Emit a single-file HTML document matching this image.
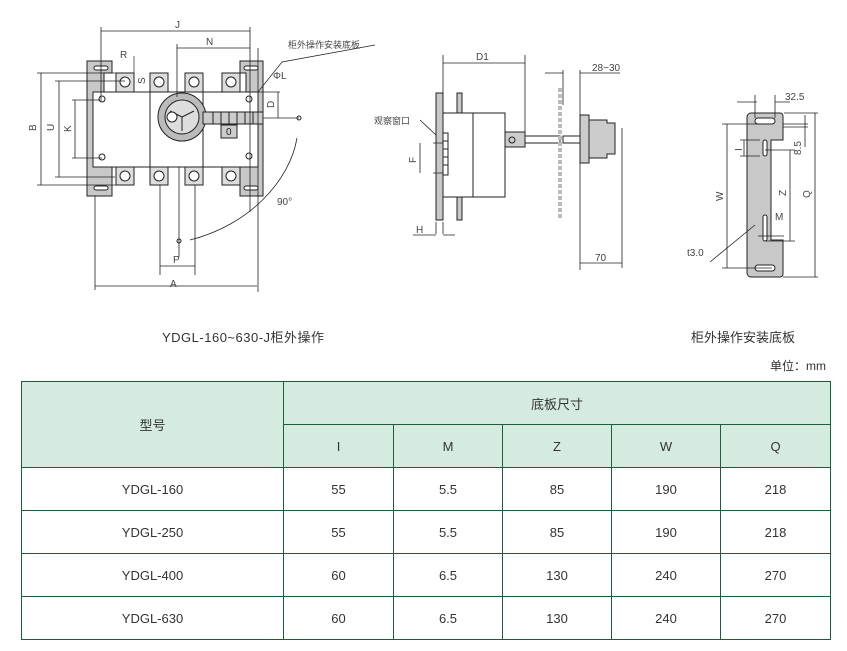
<!DOCTYPE html>
<html><head><meta charset="utf-8"><style>
body{margin:0;width:847px;height:651px;background:#fff;overflow:hidden;position:relative;font-family:"Liberation Sans","Noto Sans CJK SC",sans-serif;color:#333}
svg{position:absolute;left:0;top:0}
.cap{position:absolute;font-size:13px;color:#333}
table{position:absolute;left:21px;top:381px;border-collapse:collapse;font-size:13px;color:#333}
td{border:1px solid #1f5c3c;text-align:center;padding:0;height:42px}
.h{background:#d6ebe0}
</style></head><body>
<svg width="847" height="330" viewBox="0 0 847 330" font-family="Liberation Sans, Noto Sans CJK SC, sans-serif" font-size="10" fill="none" stroke="#222" stroke-width="1">
<!-- front view -->
<path d="M87 61h25v12h-8v94h8v29h-25z" fill="#c8c8c8"/>
<path d="M240 61h23v135h-23v-29h6v-94h-6z" fill="#c8c8c8"/>
<rect x="93" y="92" width="165" height="75" fill="#fff"/>
<rect x="150" y="92" width="53" height="75" fill="#fff"/>
<g fill="#ddd">
<rect x="116" y="73" width="18" height="19"/><rect x="150" y="73" width="18" height="19"/><rect x="185" y="73" width="18" height="19"/><rect x="222" y="73" width="18" height="19"/>
<rect x="116" y="167" width="18" height="18"/><rect x="150" y="167" width="18" height="18"/><rect x="185" y="167" width="18" height="18"/><rect x="222" y="167" width="18" height="18"/>
</g>
<g fill="#fff"><circle cx="125" cy="82" r="5"/><circle cx="159" cy="82" r="5"/><circle cx="194" cy="82" r="5"/><circle cx="231" cy="82" r="5"/>
<circle cx="125" cy="176" r="5"/><circle cx="159" cy="176" r="5"/><circle cx="194" cy="176" r="5"/><circle cx="231" cy="176" r="5"/></g>
<rect x="94" y="66" width="14" height="4" rx="2" fill="#fff"/><rect x="94" y="186" width="14" height="4" rx="2" fill="#fff"/>
<rect x="244" y="66" width="14" height="4" rx="2" fill="#fff"/><rect x="244" y="186" width="14" height="4" rx="2" fill="#fff"/>
<circle cx="182" cy="117" r="24" fill="#bbb"/><circle cx="182" cy="117" r="17" fill="#ddd"/>
<path d="M182 117l-12 -6M182 117l12 -6M182 117v14"/><circle cx="172" cy="117" r="5" fill="#fff"/>
<rect x="203" y="112" width="60" height="12" fill="#ccc"/>
<path d="M213 112v12M221 112v12M229 112v12M237 112v12M245 112v12M253 112v12"/>
<rect x="221" y="125" width="16" height="13" fill="#ccc"/><text x="226" y="135" fill="#222" stroke="none">0</text>
<circle cx="102" cy="99" r="3" fill="#fff"/><circle cx="102" cy="157" r="3" fill="#fff"/><circle cx="249" cy="99" r="3" fill="#fff"/><circle cx="249" cy="156" r="3" fill="#fff"/>
<!-- dims -->
<path d="M101 27v72M250 27v185M95 196v94M258 48v244M177 44v53M160 185v90M195 185v90M179 167v90" stroke-width="0.8"/>
<path d="M101 31h149M177 48h73M95 286h162M160 266h35M41 73v112M59 81v96M75 100v58M278 92v26" stroke-width="0.8"/>
<path d="M37 73h79M55 81h70M72 100h30M55 177h60M37 185h80M72 158h30M258 92h22M263 118h36M134 56v30" stroke-width="0.7"/>
<path d="M297 138C290 180 250 225 190 240" stroke-width="0.8"/>
<circle cx="299" cy="118" r="2"/><circle cx="179" cy="241" r="2"/>
<path d="M258 92L282 62L375 45" stroke-width="0.7"/>
<g fill="#444" stroke="none" font-size="10">
<text x="175" y="28">J</text><text x="206" y="45">N</text><text x="120" y="58">R</text><text x="170" y="287">A</text><text x="173" y="263">P</text>
<text x="273" y="79">ΦL</text><text x="277" y="205">90°</text>
<text x="288" y="48" font-size="9">柜外操作安装底板</text>
<text transform="translate(36 131) rotate(-90)">B</text><text transform="translate(54 131) rotate(-90)">U</text><text transform="translate(71 132) rotate(-90)">K</text><text transform="translate(274 108) rotate(-90)">D</text><text transform="translate(145 84) rotate(-90)">S</text>
</g>
<!-- side view -->
<rect x="436" y="93" width="7" height="127" fill="#c8c8c8"/>
<rect x="457" y="93" width="5" height="20" fill="#c8c8c8"/><rect x="457" y="197" width="5" height="23" fill="#c8c8c8"/>
<rect x="443" y="113" width="62" height="84" fill="#fff"/><path d="M473 113v84"/>
<rect x="443" y="133" width="5" height="42" fill="#fff"/><path d="M443 141h5M443 149h5M443 157h5M443 165h5"/>
<rect x="505" y="132" width="20" height="15" fill="#ccc"/><circle cx="512" cy="140" r="3"/>
<rect x="525" y="136" width="35" height="7"/><rect x="563" y="136" width="17" height="7"/>
<path d="M560 88v130" stroke="#bbb" stroke-width="4" stroke-dasharray="4 2"/>
<path d="M580 115h9v48h-9z" fill="#ccc"/><path d="M589 120h18v3h8v31h-8v4h-18z" fill="#ccc"/>
<path d="M443 55v55M525 55v77M580 70v200M622 128v140M563 70v35M433 143h10M433 173h10M436 222v12M443 222v12" stroke-width="0.8"/>
<path d="M443 63h82M545 73h18M580 73h40M580 263h42M420 143v30M413 235h23M443 235h12M420 120L436 135" stroke-width="0.8"/>
<g fill="#444" stroke="none" font-size="10">
<text x="476" y="60">D1</text><text x="592" y="71">28−30</text><text x="595" y="261">70</text><text x="416" y="233">H</text>
<text transform="translate(416 163) rotate(-90)">F</text><text x="374" y="124" font-size="9">观察窗口</text>
</g>
<!-- bracket -->
<path d="M751 113h29a3 3 0 0 1 3 3v24h-12v100h12v34a3 3 0 0 1 -3 3h-29a4 4 0 0 1 -4 -4v-156a4 4 0 0 1 4 -4z" fill="#c8c8c8"/>
<rect x="755" y="118" width="20" height="6" rx="3" fill="#fff"/><rect x="755" y="265" width="20" height="6" rx="3" fill="#fff"/>
<rect x="763" y="140" width="4" height="16" rx="2" fill="#fff"/><rect x="763" y="215" width="4" height="26" rx="2" fill="#fff"/>
<path d="M737 102h20M775 102h15M755 95v23M775 95v23M784 113h34M783 124h25M783 127h25M805 115v12M805 127v20M727 124v144M722 124h45M722 268h50M815 113v164M790 150v91M765 150h30M765 241h30M744 140v16M740 140h20M740 156h20M758 236h26M710 262L755 225M783 277h35" stroke-width="0.8"/>
<g fill="#444" stroke="none" font-size="10">
<text x="785" y="100">32.5</text><text x="775" y="220">M</text><text x="687" y="256">t3.0</text>
<text transform="translate(723 201) rotate(-90)">W</text><text transform="translate(786 196) rotate(-90)">Z</text><text transform="translate(810 198) rotate(-90)">Q</text><text transform="translate(801 155) rotate(-90)">8.5</text><text transform="translate(742 151) rotate(-90)">I</text>
</g>
</svg>
<div class="cap" style="left:162px;top:327px;letter-spacing:0.5px">YDGL-160~630-J柜外操作</div>
<div class="cap" style="left:691px;top:327px">柜外操作安装底板</div>
<div class="cap" style="left:770px;top:357px;font-size:12px">单位：mm</div>
<table>
<tr><td class="h" rowspan="2" style="width:261px">型号</td><td class="h" colspan="5">底板尺寸</td></tr>
<tr><td class="h" style="width:109px">I</td><td class="h" style="width:108px">M</td><td class="h" style="width:108px">Z</td><td class="h" style="width:108px">W</td><td class="h" style="width:109px">Q</td></tr>
<tr><td>YDGL-160</td><td>55</td><td>5.5</td><td>85</td><td>190</td><td>218</td></tr>
<tr><td>YDGL-250</td><td>55</td><td>5.5</td><td>85</td><td>190</td><td>218</td></tr>
<tr><td>YDGL-400</td><td>60</td><td>6.5</td><td>130</td><td>240</td><td>270</td></tr>
<tr><td>YDGL-630</td><td>60</td><td>6.5</td><td>130</td><td>240</td><td>270</td></tr>
</table>
</body></html>
